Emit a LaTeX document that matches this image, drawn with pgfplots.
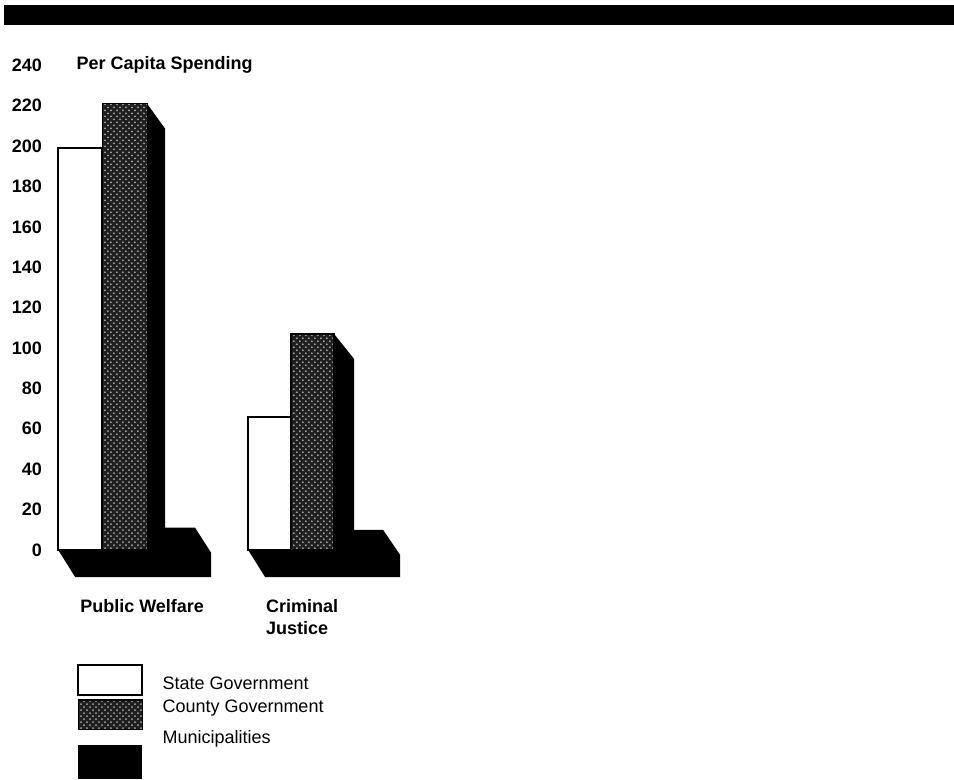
\documentclass[border=0pt]{standalone}
\usepackage{fontspec}
\setmainfont{Liberation Sans}
\usepackage{pgfplots}
\pgfplotsset{compat=1.18}
\usetikzlibrary{patterns}

\tikzset{
  statebar/.style={fill=white, draw=black, line width=1pt},
  countybar/.style={fill=black!88, draw=black, line width=0.6pt,
    postaction={pattern=crosshatch dots, pattern color=white!65!black}},
  munibar/.style={fill=black, draw=none},
}

\begin{document}
\fontsize{9}{11}\selectfont
\begin{tikzpicture}
\begin{axis}[
  scale only axis, width=477pt, height=389.5pt,
  xmin=0, xmax=954, ymin=-113.37, ymax=272.28,
  enlargelimits=false, clip=false,
  axis line style={draw=none},
  major tick length=0pt,
  ytick={0,20,...,240},
  yticklabel style={anchor=east, xshift=24pt, font=\bfseries},
  /pgf/number format/assume math mode=true,
  xtick={142,302},
  xticklabels={Public Welfare,{Criminal\\Justice}},
  xticklabel style={align=left, anchor=north, yshift=93pt, font=\bfseries},
]

% Public Welfare: municipalities slab and county side face
\addplot[munibar] coordinates {(147,221) (165,208.6) (165,11) (195,11) (211,-1.4)
  (211,-13.4) (75,-13.4) (58,0) (147,0)} -- cycle;
% Public Welfare: state and county fronts
\addplot[statebar] coordinates {(58,0) (58,199) (102,199) (102,0)} -- cycle;
\addplot[countybar] coordinates {(102,0) (102,221) (147,221) (147,0)} -- cycle;

% Criminal Justice
\addplot[munibar] coordinates {(334,107) (354,94.6) (354,10) (383,10) (400,-2.4)
  (400,-13.4) (265,-13.4) (248,0) (334,0)} -- cycle;
\addplot[statebar] coordinates {(248,0) (248,66) (291,66) (291,0)} -- cycle;
\addplot[countybar] coordinates {(291,0) (291,107) (334,107) (334,0)} -- cycle;

% key
\addplot[statebar] coordinates {(78,-56.9) (78,-71.8) (142,-71.8) (142,-56.9)} -- cycle;
\addplot[countybar] coordinates {(78,-74.3) (78,-89.1) (142,-89.1) (142,-74.3)} -- cycle;
\addplot[munibar] coordinates {(78,-96.5) (78,-113.37) (142,-113.37) (142,-96.5)} -- cycle;
\node[anchor=west] at (axis cs:156,-65.8) {State Government};
\node[anchor=west] at (axis cs:156,-78.2) {County Government};
\node[anchor=west] at (axis cs:156,-93.6) {Municipalities};

% heading band and axis title
\fill[black] (axis cs:4,269.8) rectangle (axis cs:954,259.9);
\node[anchor=west, font=\bfseries] at (axis cs:70,240) {Per Capita Spending};
\end{axis}
\end{tikzpicture}
\end{document}
